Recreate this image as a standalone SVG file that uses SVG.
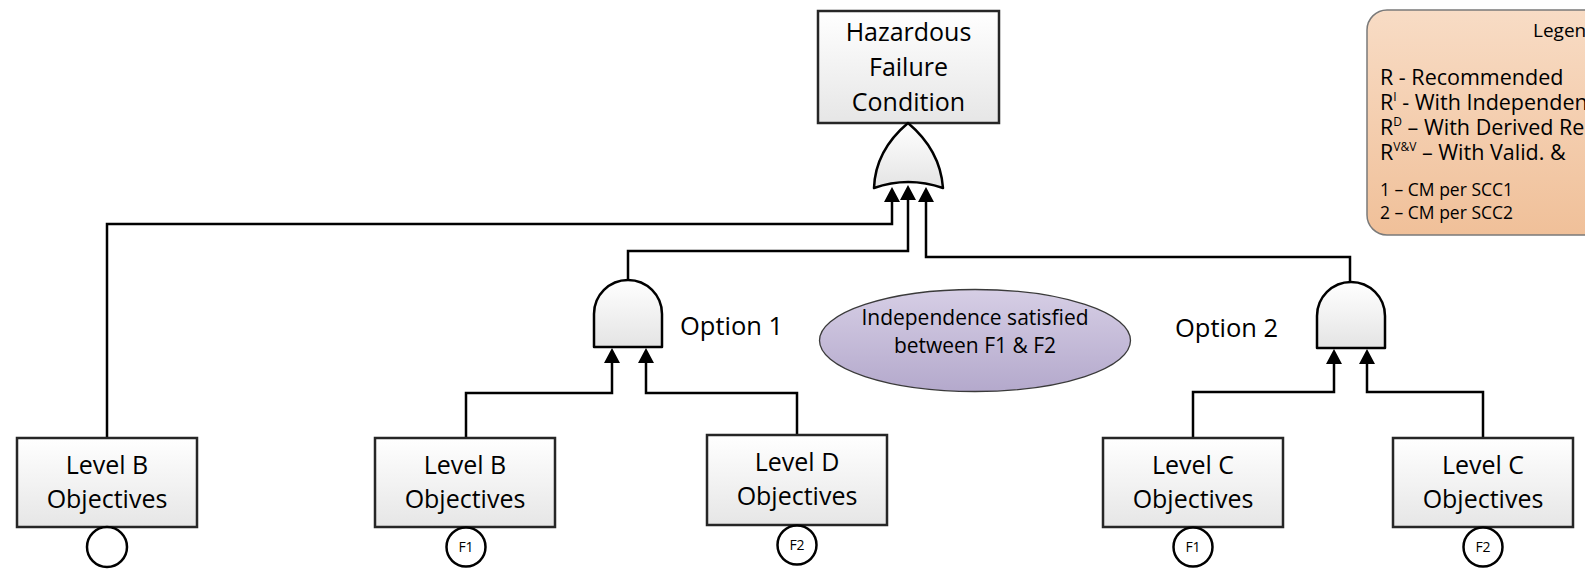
<svg xmlns="http://www.w3.org/2000/svg" width="1585" height="573" viewBox="0 0 1585 573">
  <defs>
    <linearGradient id="boxFill" x1="0" y1="0" x2="0" y2="1">
      <stop offset="0" stop-color="#ffffff"/>
      <stop offset="1" stop-color="#e6e6e6"/>
    </linearGradient>
    <linearGradient id="gateFill" x1="0" y1="0" x2="0" y2="1">
      <stop offset="0" stop-color="#ffffff"/>
      <stop offset="1" stop-color="#e4e4e4"/>
    </linearGradient>
    <linearGradient id="noteFill" x1="0" y1="0" x2="0" y2="1">
      <stop offset="0" stop-color="#d6cee5"/>
      <stop offset="1" stop-color="#b4a9cc"/>
    </linearGradient>
    <linearGradient id="legendFill" x1="0" y1="0" x2="0" y2="1">
      <stop offset="0" stop-color="#f8dcc5"/>
      <stop offset="1" stop-color="#f0c099"/>
    </linearGradient>
    <marker id="arrow" viewBox="0 0 16 16" refX="3" refY="8" markerWidth="16" markerHeight="16" markerUnits="userSpaceOnUse" orient="auto">
      <path d="M0,0 L15,8 L0,16 Z" fill="#000"/>
    </marker>
  </defs>
  <style>
    .box { fill: url(#boxFill); stroke: #262626; stroke-width: 2.5; }
    .gate { fill: url(#gateFill); stroke: #000; stroke-width: 2.5; stroke-linejoin: round; }
    .wire { fill: none; stroke: #000; stroke-width: 2.5; marker-end: url(#arrow); }
    .port { fill: #fff; stroke: #000; stroke-width: 2.5; }
    .lbl { font-family: "Open Sans", "Noto Sans", sans-serif; font-size: 25px; fill: #000; text-anchor: middle; }
    .opt { font-family: "Open Sans", "Noto Sans", sans-serif; font-size: 25.5px; fill: #000; }
    .portlbl { font-family: "Open Sans", "Noto Sans", sans-serif; font-size: 14px; fill: #000; text-anchor: middle; }
    .note { font-family: "Open Sans", "Noto Sans", sans-serif; font-size: 21px; fill: #000; text-anchor: middle; }
    .leg { font-family: "Open Sans", "Noto Sans", sans-serif; font-size: 21.5px; fill: #000; }
    .legsm { font-family: "Open Sans", "Noto Sans", sans-serif; font-size: 17.5px; fill: #000; }
  </style>

  <!-- connectors -->
  <g id="connectors">
    <path class="wire" d="M107,438 V224 H892 V199"/>
    <path class="wire" d="M628,280 V251 H908 V197"/>
    <path class="wire" d="M1350,282 V257 H926 V199"/>
    <path class="wire" d="M466,438 V393 H612 V360"/>
    <path class="wire" d="M797,435 V393 H646 V360"/>
    <path class="wire" d="M1193,438 V392 H1334 V361"/>
    <path class="wire" d="M1483,438 V392 H1367 V361"/>
  </g>

  <!-- top event -->
  <g id="top-event">
    <rect class="box" x="818" y="11" width="181" height="112"/>
    <text class="lbl" x="908.5" y="41">Hazardous</text>
    <text class="lbl" x="908.5" y="76">Failure</text>
    <text class="lbl" x="908.5" y="111">Condition</text>
  </g>

  <!-- OR gate -->
  <g id="or-gate">
    <path class="gate" d="M874,188 C875,160 889,139 908,123 C927,139 941,160 943,188 Q908,176 874,188 Z"/>
  </g>

  <!-- AND gate, option 1 -->
  <g id="and-option1">
    <path class="gate" d="M594,347 V314 A34,34 0 0 1 662,314 V347 Z"/>
    <text class="opt" x="680" y="335">Option 1</text>
  </g>

  <!-- AND gate, option 2 -->
  <g id="and-option2">
    <path class="gate" d="M1317,348 V316 A34,34 0 0 1 1385,316 V348 Z"/>
    <text class="opt" x="1175" y="337">Option 2</text>
  </g>

  <!-- independence note -->
  <g id="independence-note">
    <ellipse cx="975" cy="340.5" rx="155.5" ry="51" fill="url(#noteFill)" stroke="#3a3a3a" stroke-width="1.3"/>
    <text class="note" x="975" y="325">Independence satisfied</text>
    <text class="note" x="975" y="353">between F1 &amp; F2</text>
  </g>

  <!-- basic events -->
  <g id="level-b">
    <rect class="box" x="17" y="438" width="180" height="89"/>
    <text class="lbl" x="107" y="474">Level B</text>
    <text class="lbl" x="107" y="508">Objectives</text>
    <circle class="port" cx="107" cy="547" r="20"/>
  </g>

  <g id="level-b-f1">
    <rect class="box" x="375" y="438" width="180" height="89"/>
    <text class="lbl" x="465" y="474">Level B</text>
    <text class="lbl" x="465" y="508">Objectives</text>
    <circle class="port" cx="466" cy="547" r="19.5"/>
    <text class="portlbl" x="466" y="552">F1</text>
  </g>

  <g id="level-d-f2">
    <rect class="box" x="707" y="435" width="180" height="90"/>
    <text class="lbl" x="797" y="471">Level D</text>
    <text class="lbl" x="797" y="505">Objectives</text>
    <circle class="port" cx="797" cy="545" r="19.5"/>
    <text class="portlbl" x="797" y="550">F2</text>
  </g>

  <g id="level-c-f1">
    <rect class="box" x="1103" y="438" width="180" height="89"/>
    <text class="lbl" x="1193" y="474">Level C</text>
    <text class="lbl" x="1193" y="508">Objectives</text>
    <circle class="port" cx="1193" cy="547" r="19.5"/>
    <text class="portlbl" x="1193" y="552">F1</text>
  </g>

  <g id="level-c-f2">
    <rect class="box" x="1393" y="438" width="180" height="89"/>
    <text class="lbl" x="1483" y="474">Level C</text>
    <text class="lbl" x="1483" y="508">Objectives</text>
    <circle class="port" cx="1483" cy="547" r="19.5"/>
    <text class="portlbl" x="1483" y="552">F2</text>
  </g>

  <!-- legend (box runs past the right edge of the sheet) -->
  <g id="legend">
    <rect x="1367" y="10" width="300" height="225" rx="20" ry="20" fill="url(#legendFill)" stroke="#7a7a7a" stroke-width="1.5"/>
    <text class="leg" x="1533" y="37" style="font-size:19px">Legend</text>
    <text class="leg" x="1380" y="85">R - Recommended</text>
    <text class="leg" x="1380" y="110">R<tspan dy="-9" font-size="12">I</tspan><tspan dy="9"> - With Independence</tspan></text>
    <text class="leg" x="1380" y="135">R<tspan dy="-9" font-size="12">D</tspan><tspan dy="9"> – With Derived Re</tspan></text>
    <text class="leg" x="1380" y="160">R<tspan dy="-9" font-size="12">V&amp;V</tspan><tspan dy="9"> – With Valid. &amp; </tspan></text>
    <text class="legsm" x="1380" y="196">1 – CM per SCC1</text>
    <text class="legsm" x="1380" y="219">2 – CM per SCC2</text>
  </g>
</svg>
